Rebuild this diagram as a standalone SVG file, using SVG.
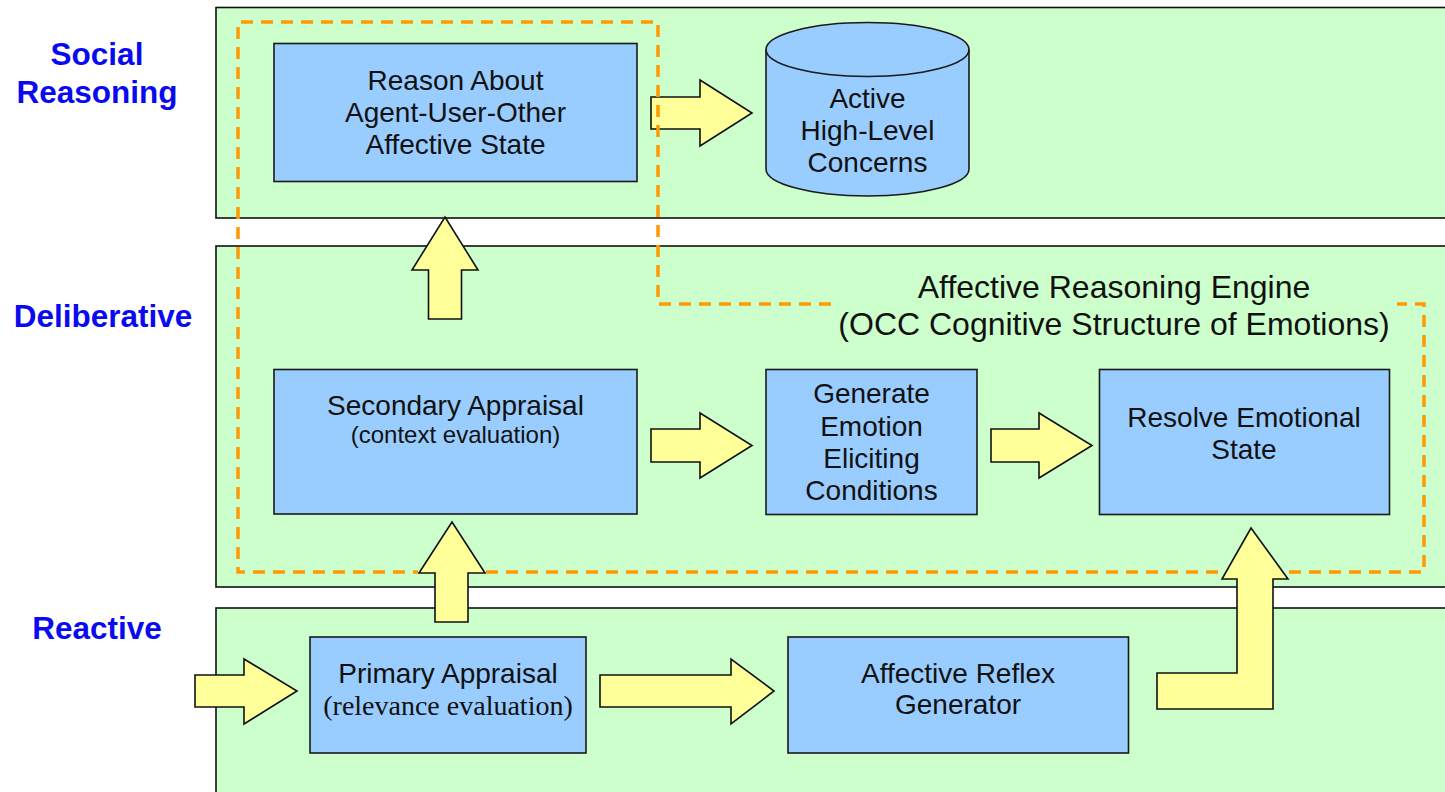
<svg xmlns="http://www.w3.org/2000/svg" width="1445" height="792" viewBox="0 0 1445 792">
<style>
.panel{fill:#ccffcc;stroke:#111;stroke-width:1.6}
.box{fill:#99ccff;stroke:#1a1a1a;stroke-width:1.6}
.arrow{fill:#ffff99;stroke:#111;stroke-width:1.6;stroke-linejoin:miter}
.dash{fill:none;stroke:#ff9900;stroke-width:3.5;stroke-dasharray:12 8}
.t{font-family:"Liberation Sans",Arial,sans-serif;font-size:28px;fill:#111;text-anchor:middle}
.s{font-size:24px}
.serif{font-family:"Liberation Serif","Times New Roman",serif}
.eng{font-size:32px}
.lbl{font-family:"Liberation Sans",Arial,sans-serif;font-size:31.5px;font-weight:bold;fill:#0a0af0;text-anchor:middle}
</style>
<rect width="1445" height="792" fill="#ffffff"/>
<g id="layers">
<g id="social-layer">
<rect class="panel" x="216" y="7.5" width="1240" height="210.5"/>
<text class="lbl" x="97" y="65">Social</text>
<text class="lbl" x="97" y="103">Reasoning</text>
</g>
<g id="deliberative-layer">
<rect class="panel" x="216" y="246" width="1240" height="341"/>
<text class="lbl" x="103" y="327">Deliberative</text>
</g>
<g id="reactive-layer">
<rect class="panel" x="216" y="608" width="1240" height="200"/>
<text class="lbl" x="97" y="639">Reactive</text>
</g>
</g>
<g id="connectors">
<polygon id="a-reason-concerns" class="arrow" points="651,97 700,97 700,80 752,113 700,146 700,129 651,129"/>
<polygon id="a-secondary-generate" class="arrow" points="651,429 700,429 700,413 752,445.5 700,478 700,462 651,462"/>
<polygon id="a-generate-resolve" class="arrow" points="991,429 1039,429 1039,413 1092,445.5 1039,478 1039,462 991,462"/>
<polygon id="a-secondary-reason" class="arrow" points="428.5,319 428.5,270 412,270 445,217 478,270 461.5,270 461.5,319"/>
<polygon id="a-primary-secondary" class="arrow" points="435,622 435,573 419,573 452,522 485,573 468,573 468,622"/>
<polygon id="a-input-primary" class="arrow" points="195,675 244,675 244,659 297,691 244,724 244,707 195,707"/>
<polygon id="a-primary-reflex" class="arrow" points="600,675 731,675 731,659 774,691 731,724 731,707 600,707"/>
<polygon id="a-reflex-resolve" class="arrow" points="1157,673 1237,673 1237,579 1222,579 1251,528 1288,579 1273,579 1273,709 1157,709"/>
</g>
<g id="engine-region">
<path class="dash" d="M831,304 H658 V22 H238 V572 H418 M486,572 H1221 M1289,572 H1424 V304 H1397"/>
<text class="t eng" x="1114" y="298">Affective Reasoning Engine</text>
<text class="t eng" x="1114" y="335">(OCC Cognitive Structure of Emotions)</text>
</g>
<g id="reason-about">
<rect class="box" x="274" y="43.5" width="363" height="138"/>
<text class="t" x="455.5" y="90">Reason About</text>
<text class="t" x="455.5" y="122">Agent-User-Other</text>
<text class="t" x="455.5" y="154">Affective State</text>
</g>
<g id="active-concerns">
<path class="box" d="M766,49.5 V169 A101.5,27 0 0 0 969,169 V49.5"/>
<ellipse class="box" cx="867.5" cy="49.5" rx="101.5" ry="27"/>
<text class="t" x="867.5" y="108">Active</text>
<text class="t" x="867.5" y="140">High-Level</text>
<text class="t" x="867.5" y="172">Concerns</text>
</g>
<g id="secondary-appraisal">
<rect class="box" x="274" y="369.5" width="363" height="144.5"/>
<text class="t" x="455.5" y="415">Secondary Appraisal</text>
<text class="t s" x="455.5" y="443">(context evaluation)</text>
</g>
<g id="generate-conditions">
<rect class="box" x="766" y="369.5" width="211" height="145"/>
<text class="t" x="871.5" y="403">Generate</text>
<text class="t" x="871.5" y="435.5">Emotion</text>
<text class="t" x="871.5" y="467.5">Eliciting</text>
<text class="t" x="871.5" y="500">Conditions</text>
</g>
<g id="resolve-state">
<rect class="box" x="1099.5" y="369.5" width="290" height="145"/>
<text class="t" x="1244" y="427">Resolve Emotional</text>
<text class="t" x="1244" y="459">State</text>
</g>
<g id="primary-appraisal">
<rect class="box" x="310" y="637" width="276" height="116"/>
<text class="t" x="448" y="683">Primary Appraisal</text>
<text class="t serif" x="448" y="715">(relevance evaluation)</text>
</g>
<g id="affective-reflex">
<rect class="box" x="788" y="637" width="340.5" height="116"/>
<text class="t" x="958" y="682.5">Affective Reflex</text>
<text class="t" x="958" y="713.5">Generator</text>
</g>
</svg>
